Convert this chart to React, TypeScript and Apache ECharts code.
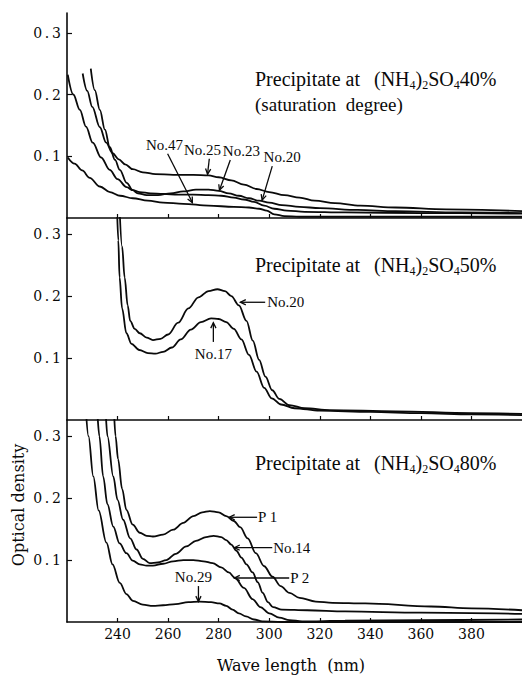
import React, { useEffect, useRef } from 'react';
import * as echarts from 'echarts';

// ---------- tick labels ----------
const xTicks = [240, 260, 280, 300, 320, 340, 360, 380];
const yTicks = [0.1, 0.2, 0.3];

// ---------- panel 1 : (NH4)2SO4 40 % ----------
const p40No20: number[][] = [[220.3,0.232],[222.5,0.2],[225.1,0.175],[227.5,0.148],[230.2,0.122],[233.5,0.098],[236.9,0.078],[240,0.063],[243.6,0.05],[246,0.045],[248.8,0.042],[253,0.04],[258,0.039],[264,0.038],[270,0.038],[276,0.037],[281,0.036],[286,0.033],[290,0.03],[294,0.026],[298,0.02],[302,0.015],[307,0.012],[314,0.01],[330,0.009],[360,0.008],[400,0.007]];
const p40No23: number[][] = [[229.4,0.242],[231,0.207],[233,0.175],[235,0.143],[236.9,0.115],[239,0.094],[240.9,0.078],[243.6,0.057],[246,0.045],[248,0.04],[251.5,0.037],[256,0.037],[261,0.04],[266,0.043],[271,0.046],[276,0.046],[280,0.044],[284,0.04],[288,0.036],[292,0.032],[296,0.028],[300,0.025],[305,0.021],[312,0.018],[320,0.016],[335,0.013],[350,0.011],[375,0.009],[400,0.008]];
const p40No25: number[][] = [[226.2,0.234],[228,0.206],[230,0.18],[233,0.147],[235.5,0.122],[238,0.105],[240.5,0.095],[243,0.087],[246,0.079],[250,0.074],[255,0.071],[262,0.07],[270,0.07],[276,0.069],[280,0.066],[285,0.061],[290,0.054],[295,0.047],[300,0.042],[306,0.037],[312,0.033],[318,0.028],[326,0.024],[336,0.02],[350,0.017],[370,0.014],[400,0.011]];
const p40No47: number[][] = [[220.3,0.098],[223,0.088],[226,0.077],[229,0.065],[233,0.051],[237,0.042],[241,0.036],[246,0.032],[252,0.028],[258,0.025],[266,0.023],[276,0.02],[286,0.018],[292,0.017],[296,0.015],[299,0.012],[302,0.006],[306,0.003],[312,0.002],[340,0.002],[400,0.002]];

// ---------- panel 2 : (NH4)2SO4 50 % ----------
const p50No20: number[][] = [[240.8,0.34],[241.8,0.28],[242.8,0.23],[244,0.185],[245,0.16],[246.8,0.147],[248.8,0.14],[251.5,0.133],[254,0.129],[257,0.131],[260,0.138],[264,0.157],[268,0.18],[272,0.198],[276,0.208],[279.5,0.211],[282.5,0.208],[285,0.2],[288,0.185],[291,0.16],[293.5,0.128],[296,0.097],[298.5,0.07],[301.2,0.048],[304,0.034],[308,0.024],[314,0.019],[324,0.016],[350,0.014],[380,0.011],[400,0.01]];
const p50No17: number[][] = [[239.8,0.34],[240.3,0.29],[240.8,0.23],[241.8,0.18],[243.5,0.14],[245.5,0.123],[248.6,0.113],[252,0.108],[255,0.107],[258,0.11],[261.5,0.117],[265,0.13],[269,0.146],[273,0.158],[277,0.164],[280,0.163],[283,0.158],[286,0.147],[289,0.13],[292,0.105],[295,0.078],[298,0.052],[301,0.035],[304.7,0.025],[310,0.019],[320,0.015],[340,0.013],[360,0.011],[380,0.009],[400,0.008]];

// ---------- panel 3 : (NH4)2SO4 80 % ----------
const p80P1: number[][] = [[238.6,0.34],[239.2,0.3],[240.2,0.263],[241.8,0.215],[243.5,0.181],[246,0.157],[248.8,0.144],[251.5,0.139],[254,0.138],[258,0.141],[262,0.149],[266,0.16],[270,0.171],[273.5,0.177],[276.5,0.179],[280,0.177],[283,0.171],[286,0.163],[288.5,0.153],[291.5,0.135],[294.7,0.111],[298,0.09],[301.3,0.073],[304.5,0.058],[308,0.047],[312,0.039],[318.4,0.033],[325,0.031],[338,0.03],[364,0.025],[380,0.022],[400,0.019]];
const p80No14: number[][] = [[235.3,0.34],[236,0.3],[238.3,0.235],[240,0.197],[242.2,0.165],[245,0.135],[247.5,0.117],[250,0.102],[252.7,0.095],[256,0.096],[259.3,0.1],[263,0.11],[267.2,0.122],[271,0.131],[275,0.137],[278,0.139],[281,0.137],[283,0.132],[285,0.125],[287,0.115],[289,0.104],[291,0.093],[293.4,0.08],[295.5,0.064],[297.4,0.047],[299.5,0.032],[301.5,0.024],[305,0.02],[315,0.019],[330,0.017],[360,0.015],[400,0.013]];
const p80P2: number[][] = [[232,0.34],[232.8,0.3],[234.3,0.235],[236,0.19],[238.3,0.154],[240.8,0.127],[243.5,0.111],[246,0.099],[248.8,0.093],[251.5,0.091],[254,0.091],[258,0.094],[262,0.098],[266,0.1],[270,0.1],[274,0.098],[277.6,0.095],[281,0.088],[284,0.08],[286.5,0.071],[290,0.055],[293.4,0.037],[296.5,0.024],[300,0.014],[304,0.007],[308,0.003],[313,0.001],[330,0.002],[360,0.003],[400,0.004]];
const p80No29: number[][] = [[227.5,0.34],[228.5,0.3],[230.4,0.235],[232.5,0.18],[235.6,0.128],[238,0.093],[240.9,0.063],[243.5,0.045],[246.1,0.034],[250,0.028],[254,0.026],[258,0.027],[263,0.029],[268,0.032],[272.4,0.033],[277,0.032],[280.3,0.03],[283,0.026],[285.5,0.02],[288,0.014],[290.8,0.009],[294,0.004],[297.3,0.001],[305,0],[400,0]];

const panelSeries = [
  [p40No20, p40No23, p40No25, p40No47],
  [p50No20, p50No17],
  [p80P1, p80No14, p80P2, p80No29],
];
const panelNames = [
  ['No.20', 'No.23', 'No.25', 'No.47'],
  ['No.20', 'No.17'],
  ['P 1', 'No.14', 'P 2', 'No.29'],
];
const panelPercent = ['40%', '50%', '80%'];
const yMax = [0.332, 0.326, 0.326];

// annotation anchors in data units: label position, arrow tail, arrow head
const annotations = [
  { panel: 0, text: 'No.47', at: [258.6, 0.118], align: 'center', from: [259.8, 0.104], to: [269.6, 0.025] },
  { panel: 0, text: 'No.25', at: [273.6, 0.110], align: 'center', from: [276.3, 0.096], to: [275.6, 0.071] },
  { panel: 0, text: 'No.23', at: [289.0, 0.109], align: 'center', from: [284.6, 0.094], to: [280.3, 0.045] },
  { panel: 0, text: 'No.20', at: [305.1, 0.099], align: 'center', from: [301.2, 0.084], to: [297.2, 0.029] },
  { panel: 1, text: 'No.20', at: [299.2, 0.190], align: 'left', from: [298.4, 0.190], to: [288.6, 0.190] },
  { panel: 1, text: 'No.17', at: [277.9, 0.106], align: 'center', from: [277.9, 0.126], to: [277.9, 0.157] },
  { panel: 2, text: 'P 1', at: [295.6, 0.169], align: 'left', from: [295.2, 0.169], to: [284.2, 0.169] },
  { panel: 2, text: 'No.14', at: [301.6, 0.120], align: 'left', from: [301.2, 0.120], to: [286.2, 0.120] },
  { panel: 2, text: 'P 2', at: [308.3, 0.071], align: 'left', from: [307.9, 0.071], to: [286.2, 0.071] },
  { panel: 2, text: 'No.29', at: [270.0, 0.073], align: 'center', from: [272.0, 0.058], to: [272.0, 0.033] },
];

const gridRects = [
  { left: 67, top: 13, width: 455, height: 205 },
  { left: 67, top: 218, width: 455, height: 202 },
  { left: 67, top: 420, width: 455, height: 202 },
];
const titleY = [79, 265, 463];

const INK = '#0a0a0a';
const SERIF = 'Liberation Serif';

export default function App() {
  const ref = useRef<HTMLDivElement>(null);
  useEffect(() => {
    if (!ref.current) return;
    const chart = echarts.init(ref.current, undefined, { renderer: 'svg' });
    const xAxis: any[] = [];
    const yAxis: any[] = [];
    const series: any[] = [];
    for (let i = 0; i < 3; i++) {
      xAxis.push({
        gridIndex: i, type: 'value', min: 220, max: 400, interval: 20,
        axisLine: { show: true, onZero: false, lineStyle: { color: INK, width: 1.6 } },
        axisTick: { show: true, inside: true, length: 4, customValues: xTicks, lineStyle: { color: INK, width: 1.2 } },
        axisLabel: { show: i === 2, customValues: xTicks, fontFamily: 'DejaVu Serif', fontSize: 14, color: INK, margin: 5 },
        splitLine: { show: false },
      });
      yAxis.push({
        gridIndex: i, type: 'value', min: 0, max: yMax[i], interval: 0.1,
        axisLine: { show: true, onZero: false, lineStyle: { color: INK, width: 1.6 } },
        axisTick: { show: true, inside: true, length: 5, customValues: yTicks, lineStyle: { color: INK, width: 1.2 } },
        axisLabel: {
          customValues: yTicks, fontFamily: 'DejaVu Serif', fontSize: 14, color: INK, margin: 6,
          formatter: (v: number) => { const s = v.toFixed(1); return s[0] + '\u2009.\u2009' + s[2]; },
        },
        splitLine: { show: false },
      });
      panelSeries[i].forEach((d, k) => {
        series.push({
          type: 'line', name: panelNames[i][k], xAxisIndex: i, yAxisIndex: i, data: d,
          showSymbol: false, smooth: 0.35, smoothMonotone: 'x', clip: true,
          lineStyle: { color: INK, width: 1.8 },
        });
      });
    }
    chart.setOption({
      animation: false,
      backgroundColor: '#fff',
      grid: gridRects.map((g) => ({ ...g, containLabel: false })),
      xAxis, yAxis, series,
    });

    const graphic: any[] = [];
    const main = { fontSize: 20, fontFamily: SERIF, lineHeight: 24, verticalAlign: 'middle', fill: INK };
    const sub = { fontSize: 12, fontFamily: SERIF, lineHeight: 11, verticalAlign: 'bottom', fill: INK };
    for (let i = 0; i < 3; i++) {
      graphic.push({
        type: 'text', x: 255, y: titleY[i],
        style: { text: 'Precipitate at', fontSize: 20, fontFamily: SERIF, fill: INK, align: 'left', verticalAlign: 'middle' },
      });
      graphic.push({
        type: 'text', x: 374, y: titleY[i],
        style: {
          text: `{m|(NH}{s|4}{m|)}{s|2}{m|SO}{s|4}{m|${panelPercent[i]}}`,
          rich: { m: main, s: sub }, align: 'left', verticalAlign: 'middle', fill: INK,
        },
      });
    }
    graphic.push({
      type: 'text', x: 255, y: 104,
      style: { text: '(saturation  degree)', fontSize: 19, fontFamily: SERIF, fill: INK, align: 'left', verticalAlign: 'middle' },
    });
    graphic.push({
      type: 'text', x: 18, y: 505, rotation: Math.PI / 2,
      style: { text: 'Optical density', fontSize: 16, fontFamily: 'DejaVu Serif', fill: INK, align: 'center', verticalAlign: 'middle' },
    });
    graphic.push({
      type: 'text', x: 291, y: 665,
      style: { text: 'Wave length  (nm)', fontSize: 16, fontFamily: 'DejaVu Serif', fill: INK, align: 'center', verticalAlign: 'middle' },
    });

    for (const a of annotations) {
      const finder = { gridIndex: a.panel } as any;
      const p = chart.convertToPixel(finder, a.at) as number[];
      const t = chart.convertToPixel(finder, a.from) as number[];
      const h = chart.convertToPixel(finder, a.to) as number[];
      graphic.push({
        type: 'text', x: p[0], y: p[1],
        style: { text: a.text, fontSize: 15, fontFamily: SERIF, fill: INK, align: a.align, verticalAlign: 'middle' },
      });
      graphic.push({
        type: 'line', shape: { x1: t[0], y1: t[1], x2: h[0], y2: h[1] },
        style: { stroke: INK, lineWidth: 1.3 },
      });
      const ang = Math.atan2(h[1] - t[1], h[0] - t[0]);
      const L = 6;
      const a1 = ang + Math.PI - 0.45;
      const a2 = ang + Math.PI + 0.45;
      graphic.push({
        type: 'polyline',
        shape: { points: [[h[0] + L * Math.cos(a1), h[1] + L * Math.sin(a1)], [h[0], h[1]], [h[0] + L * Math.cos(a2), h[1] + L * Math.sin(a2)]] },
        style: { stroke: INK, lineWidth: 1.3, fill: 'none' },
      });
    }
    chart.setOption({ graphic });
    return () => chart.dispose();
  }, []);
  return <div ref={ref} style={{ position: 'absolute', left: 0, top: 0, width: 522, height: 675, background: '#fff' }} />;
}
